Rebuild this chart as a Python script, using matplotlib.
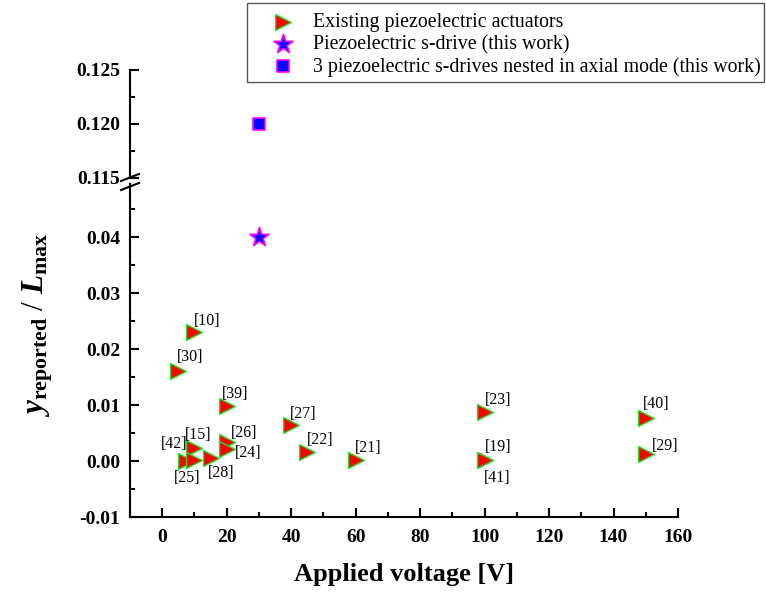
import matplotlib
matplotlib.use("Agg")
import matplotlib.pyplot as plt
from matplotlib.lines import Line2D
from matplotlib.patches import Rectangle
from matplotlib.ticker import MultipleLocator, FormatStrFormatter

plt.rcParams['font.family'] = 'Liberation Serif'
plt.rcParams['mathtext.fontset'] = 'custom'
plt.rcParams['mathtext.rm'] = 'Liberation Serif'
plt.rcParams['mathtext.it'] = 'Liberation Serif:italic'
plt.rcParams['mathtext.bf'] = 'Liberation Serif:bold'
plt.rcParams['mathtext.bfit'] = 'Liberation Serif:bold:italic'

# existing actuators from the literature
refs = ['[10]', '[30]', '[39]', '[27]', '[22]', '[26]', '[24]', '[15]', '[42]',
        '[25]', '[28]', '[21]', '[23]', '[19]', '[41]', '[40]', '[29]']
voltage = [10, 5, 20, 40, 45, 20, 20, 10, 7.5, 10, 15, 60, 100, 100, 100, 150, 150]
stroke = [0.023, 0.016, 0.0098, 0.0065, 0.0016, 0.0034, 0.0021, 0.0024, 0.0,
          0.0002, 0.0006, 0.0002, 0.0087, 0.0002, 0.0002, 0.0076, 0.0013]

# this work
sdrive_v, sdrive_y = [30], [0.04]
nested_v, nested_y = [30], [0.12]

legend_labels = ['Existing piezoelectric actuators',
                 'Piezoelectric s-drive (this work)',
                 '3 piezoelectric s-drives nested in axial mode (this work)']

# label offsets in pixels (dx, dy)
label_offsets = {
    '[10]': (13, 11), '[30]': (12, 14), '[39]': (8, 12), '[27]': (12, 11),
    '[22]': (13, 12), '[26]': (17, 9), '[24]': (21, -4), '[15]': (4, 13),
    '[42]': (-12, 17), '[25]': (-7, -18), '[28]': (11, -15), '[21]': (13, 12),
    '[23]': (14, 12), '[19]': (14, 13), '[41]': (13, -18), '[40]': (10, 14),
    '[29]': (19, 8),
}

W, H = 766, 592
fig = plt.figure(figsize=(W / 100, H / 100), dpi=100)
left, right = 130, 678
ax_lo = fig.add_axes([left / W, (H - 517) / H, (right - left) / W, (517 - 184) / H])
ax_hi = fig.add_axes([left / W, (H - 178) / H, (right - left) / W, (178 - 70) / H])

tri_kw = dict(marker='>', s=130, color='red', edgecolors='#22dd22', linewidths=1.0, zorder=3)
star_kw = dict(marker='*', s=210, color='blue', edgecolors='magenta', linewidths=1.2, zorder=3)
sq_kw = dict(marker='s', s=80, color='blue', edgecolors='magenta', linewidths=1.2, zorder=3)

h_tri = ax_lo.scatter(voltage, stroke, **tri_kw)
h_star = ax_lo.scatter(sdrive_v, sdrive_y, **star_kw)
h_sq = ax_hi.scatter(nested_v, nested_y, **sq_kw)

for r, x, y in zip(refs, voltage, stroke):
    dx, dy = label_offsets[r]
    ax_lo.annotate(r, (x, y), xytext=(dx, dy), textcoords='offset pixels',
                   ha='center', va='center', fontsize=11.5)

for ax in (ax_lo, ax_hi):
    ax.set_xlim(-10, 160)
    ax.spines['top'].set_visible(False)
    ax.spines['right'].set_visible(False)
    ax.spines['left'].set_linewidth(1.5)
    ax.spines['bottom'].set_linewidth(1.5)
    ax.tick_params(which='major', direction='in', length=6.5, width=1.5,
                   labelsize=14, pad=7)
    ax.tick_params(which='minor', direction='in', length=3.6, width=1.5)
    ax.patch.set_visible(False)

ax_lo.set_ylim(-0.01, 0.0495)
ax_lo.yaxis.set_major_locator(MultipleLocator(0.01))
ax_lo.yaxis.set_minor_locator(MultipleLocator(0.005))
ax_lo.yaxis.set_major_formatter(FormatStrFormatter('%.2f'))
ax_lo.xaxis.set_minor_locator(MultipleLocator(10))
ax_lo.set_xticks(range(0, 161, 20))
ax_lo.tick_params(axis='x', pad=9)

ax_hi.set_ylim(0.115, 0.125)
ax_hi.yaxis.set_major_locator(MultipleLocator(0.005))
ax_hi.yaxis.set_minor_locator(MultipleLocator(0.0025))
ax_hi.yaxis.set_major_formatter(FormatStrFormatter('%.3f'))
ax_hi.spines['bottom'].set_visible(False)
ax_hi.tick_params(axis='x', which='both', bottom=False, labelbottom=False)

for ax in (ax_lo, ax_hi):
    for lab in ax.get_xticklabels() + ax.get_yticklabels():
        lab.set_fontweight('bold')

ax_lo.set_xlabel('Applied voltage [V]', fontsize=19, fontweight='bold', labelpad=12)
fig.text(38 / W, 1 - 325 / H,
         r'$\mathbfit{y}_{\mathbf{reported}}\ /\ \mathbfit{L}_{\mathbf{max}}$',
         rotation=90, ha='center', va='center', fontsize=22.5)

# axis break marks
for y0 in (181, 190):
    fig.add_artist(Line2D([121 / W, 139 / W], [1 - y0 / H, 1 - (y0 - 7) / H],
                          transform=fig.transFigure, color='black', lw=1.5))

# legend without its own frame, boxed separately
fig.legend([h_tri, h_star, h_sq], legend_labels,
           loc='upper left', bbox_to_anchor=(254 / W, 1 - 13 / H),
           fontsize=14.3, frameon=False, borderpad=0, labelspacing=0.14,
           handlelength=2.9, handletextpad=0.05, borderaxespad=0)
fig.add_artist(Rectangle((247 / W, 1 - 82 / H), 517 / W, 79 / H,
                         transform=fig.transFigure, fill=False,
                         edgecolor='#555555', lw=1.0))

fig.savefig('out.png', dpi=100)
